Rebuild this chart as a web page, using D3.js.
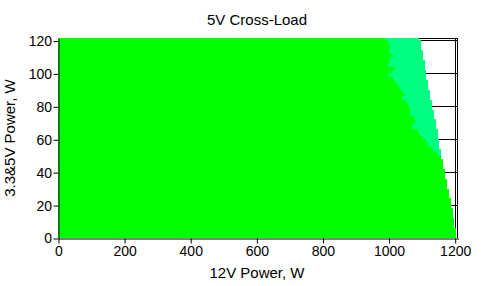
<!DOCTYPE html>
<html><head><meta charset="utf-8">
<script src="https://cdn.jsdelivr.net/npm/d3@7"></script>
<style>
html,body{margin:0;padding:0;background:#fff;}
svg{display:block;font-family:"Liberation Sans",Arial,sans-serif;}
</style></head>
<body>
<script>
// ---- data ----
const title = "5V Cross-Load";
const xLabel = "12V Power, W";
const yLabel = "3.3&5V Power, W";
const xTicks = [0, 200, 400, 600, 800, 1000, 1200];
const yTicks = [0, 20, 40, 60, 80, 100, 120];
// rows of 3.3&5V load (W), each row 2 W tall
const rowLoad5V = [0,2,4,6,8,10,12,14,16,18,20,22,24,26,28,30,32,34,36,38,40,42,44,46,48,
  50,52,54,56,58,60,62,64,66,68,70,72,74,76,78,80,82,84,86,88,90,92,94,96,98,100,
  102,104,106,108,110,112,114,116,118,120];
// maximum 12V load reached on each row (W)
const rowMax12V = [1205,1205,1205,1199,1199,1199,1194,1194,1194,1188,1188,1188,1182,1182,1182,
  1177,1177,1177,1171,1171,1171,1165,1165,1165,1160,1160,1160,1154,1154,1154,1148,1148,1148,
  1143,1143,1143,1137,1137,1137,1131,1131,1131,1126,1126,1126,1120,1120,1120,1114,1114,1114,
  1109,1109,1109,1103,1103,1103,1097,1097,1097,1092];
// 12V load where the second deviation band starts (null = no band)
const rowBand12V = [null,null,null,null,null,null,null,null,null,null,null,null,null,null,null,
  null,null,null,null,null,null,null,null,null,null,
  1145,1135,1128,1118,1112,1105,1094,1090,1072,1075,1081,1078,1066,1066,1064,1060,1052,1042,
  1050,1042,1035,1030,1020,1012,997,1010,1018,997,1000,1005,1012,1000,1003,1003,997,988];
const bandColors = ["#00ff00", "#00ff80"];

// ---- chart ----
const W = 487, H = 286;
const svg = d3.select("body").append("svg").attr("width", W).attr("height", H);
const x = d3.scaleLinear().domain([0, 1210]).range([58, 458]);
const y = d3.scaleLinear().domain([0, 121.5]).range([238, 38]);
const px = v => Math.round(x(v)) + 0.5;
const py = v => Math.round(y(v)) + 0.5;

// gridlines
const grid = svg.append("g").attr("stroke", "#000").attr("stroke-width", 1);
grid.selectAll("line.h").data(yTicks.filter(d => d > 0)).join("line")
  .attr("x1", x(0)).attr("x2", x(1210)).attr("y1", py).attr("y2", py);
grid.selectAll("line.v").data(xTicks.filter(d => d > 0)).join("line")
  .attr("y1", y(0)).attr("y2", y(121.5)).attr("x1", px).attr("x2", px);
// frame top/right
grid.append("line").attr("x1", x(0)).attr("x2", x(1210)).attr("y1", py(121.5)).attr("y2", py(121.5));
grid.append("line").attr("x1", px(1210)-1).attr("x2", px(1210)-1).attr("y1", y(0)).attr("y2", y(121.5));

// cells
const rows = rowLoad5V.map((v, i) => ({
  lo: v, hi: Math.min(v + 2, 121.5), max: rowMax12V[i], band: rowBand12V[i]
}));
const cells = svg.append("g").attr("shape-rendering", "crispEdges");
rows.forEach(r => {
  const split = r.band == null ? r.max : r.band;
  cells.append("rect")
    .attr("x", x(0)).attr("width", x(split) - x(0))
    .attr("y", y(r.hi)).attr("height", y(r.lo) - y(r.hi))
    .attr("fill", bandColors[0]);
  if (r.band != null) {
    cells.append("rect")
      .attr("x", x(split)).attr("width", x(r.max) - x(split))
      .attr("y", y(r.hi)).attr("height", y(r.lo) - y(r.hi))
      .attr("fill", bandColors[1]);
  }
});

// axes
const ax = svg.append("g").attr("transform", "translate(0.5,0.5)");
const xa = ax.append("g").attr("transform", `translate(0,${Math.round(y(0))})`)
  .call(d3.axisBottom(x).tickValues(xTicks).tickFormat(d3.format("d"))
    .tickSize(5).tickSizeOuter(0).tickPadding(3));
const ya = ax.append("g").attr("transform", `translate(${Math.round(x(0))},0)`)
  .call(d3.axisLeft(y).tickValues(yTicks).tickFormat(d3.format("d"))
    .tickSize(5).tickSizeOuter(0).tickPadding(1.5));
[xa, ya].forEach(a => {
  a.selectAll("path,line").attr("stroke", "#000");
  a.selectAll("text").attr("fill", "#000").style("font-size", "14px")
    .style("font-family", '"Liberation Sans",Arial,sans-serif');
});

// texts
svg.append("text").attr("x", 257).attr("y", 25).attr("text-anchor", "middle")
  .style("font-size", "15px").text(title);
svg.append("text").attr("x", 257).attr("y", 278).attr("text-anchor", "middle")
  .style("font-size", "15px").text(xLabel);
svg.append("text").attr("transform", "translate(15,138) rotate(-90)").attr("text-anchor", "middle")
  .style("font-size", "15px").text(yLabel);
</script>
</body></html>
